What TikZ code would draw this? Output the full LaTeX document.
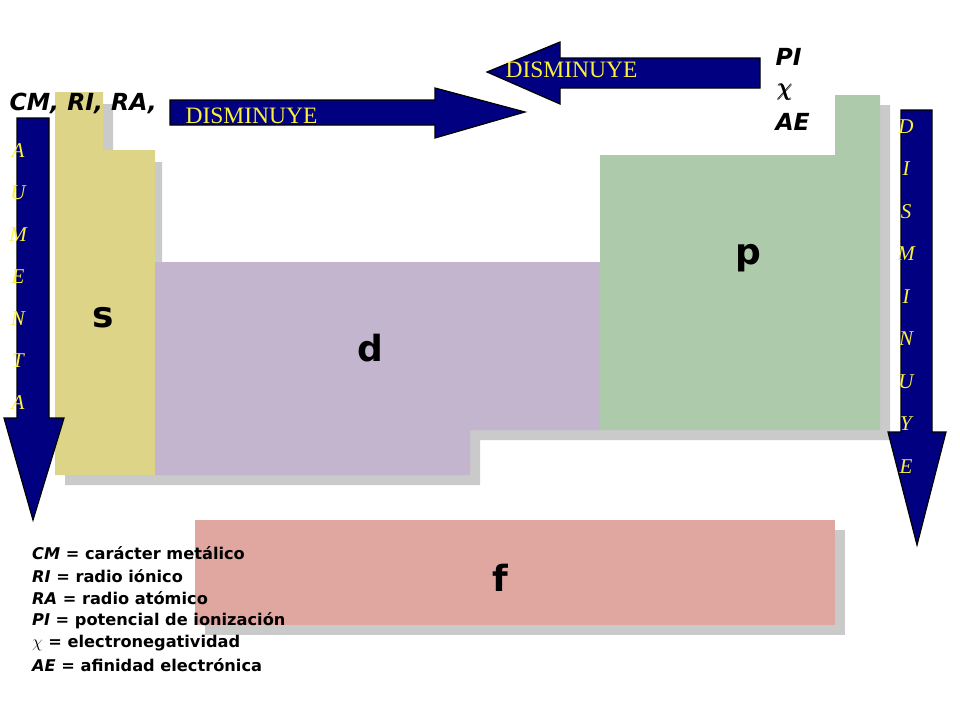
\documentclass[tikz,border=0pt]{standalone}
\usepackage{amsmath}
\usepackage{fontspec}
\setsansfont{DejaVu Sans}
\setmainfont{Liberation Serif}
\usetikzlibrary{positioning}
\definecolor{colS}{RGB}{221,212,135}
\definecolor{colD}{RGB}{196,181,207}
\definecolor{colP}{RGB}{173,203,170}
\definecolor{colF}{RGB}{223,167,160}
\definecolor{navy}{RGB}{0,0,128}
\definecolor{txtY}{RGB}{250,240,60}
\begin{document}
\begin{tikzpicture}[x=1pt,y=-1pt,
    blockarrow/.style={draw=black, fill=navy, line width=1.2pt},
    shade/.style={fill=black!35, draw=none, opacity=0.6},
    blocklabel/.style={font=\sffamily\bfseries\fontsize{36}{38}\selectfont},
    arrowtext/.style={text=txtY, font=\rmfamily\fontsize{23.5}{25}\selectfont},
    vletter/.style={text=txtY, font=\rmfamily\itshape\fontsize{21}{22}\selectfont, inner sep=0pt},
    propname/.style={font=\sffamily\bfseries\itshape\fontsize{23.5}{25}\selectfont},
    legend/.style={font=\sffamily\bfseries\fontsize{16.2}{17}\selectfont, inner sep=0pt}]
  \useasboundingbox (0,0) rectangle (960,720);
  % Sombras
  \fill[shade] (65,104) -- (113,104) -- (113,162) -- (162,162) -- (162,272) -- (610,272) -- (610,167) -- (845,167) -- (845,105) -- (890,105) -- (890,440) -- (610,440) -- (480,440) -- (480,485) -- (65,485) -- cycle;
  \fill[shade] (205,530) rectangle (845,635);
  % Bloques
  \fill[colS] (55,92) -- (103,92) -- (103,150) -- (155,150) -- (155,475) -- (55,475) -- cycle;
  \fill[colD] (155,262) -- (600,262) -- (600,430) -- (470,430) -- (470,475) -- (155,475) -- cycle;
  \fill[colP] (600,155) -- (835,155) -- (835,95) -- (880,95) -- (880,430) -- (600,430) -- cycle;
  \fill[colF] (195,520) rectangle (835,625);
  \fill[white] (428,640) rectangle (797,680);
  \node[blocklabel] (s) at (103,318) {s};
  \node[blocklabel] (d) at (370,348) {d};
  \node[blocklabel] (p) at (748,258) {p};
  \node[blocklabel] (f) at (500,578) {f};
  % Flechas
  \draw[blockarrow] (17,118) -- (49,118) -- (49,418) -- (64,418) -- (33,520) -- (4,418) -- (17,418) -- cycle;
  \draw[blockarrow] (901,110) -- (932,110) -- (932,432) -- (946,432) -- (917,545) -- (888,432) -- (901,432) -- cycle;
  \draw[blockarrow] (170,100) -- (435,100) -- (435,88) -- (525,112) -- (435,138) -- (435,125) -- (170,125) -- cycle;
  \draw[blockarrow] (760,58) -- (560,58) -- (560,42) -- (487,72) -- (560,104) -- (560,88) -- (760,88) -- cycle;
  \node[arrowtext, anchor=west] (dis1) at (182,116) {DISMINUYE};
  \node[arrowtext, anchor=west] (dis2) at (502,70) {DISMINUYE};
  \foreach \l [count=\i] in {A,U,M,E,N,T,A}
    \node[vletter] (aum\i) at (18,109+42*\i) {\l};
  \foreach \l [count=\i] in {D,I,S,M,I,N,U,Y,E}
    \node[vletter] (dis\i) at (906,84+42.5*\i) {\l};
  % Textos
  \node[propname, anchor=west] (cm) at (6,103) {CM, RI, RA,};
  \node[propname, anchor=west] (pi) at (772,57) {PI};
  \node[font=\fontsize{23}{25}\selectfont, anchor=west] (chi) at (774,92) {$\pmb{\chi}$};
  \node[propname, anchor=west] (ae) at (772,122) {AE};
  \foreach \t [count=\i] in {{\textit{CM} = carácter metálico},{\textit{RI} = radio iónico},{\textit{RA} = radio atómico},{\textit{PI} = potencial de ionización},{$\chi$ = electronegatividad},{\textit{AE} = afinidad electrónica}}
    \node[legend, anchor=west] (leg\i) at (32,531+22.4*\i) {\t};
\end{tikzpicture}
\end{document}
